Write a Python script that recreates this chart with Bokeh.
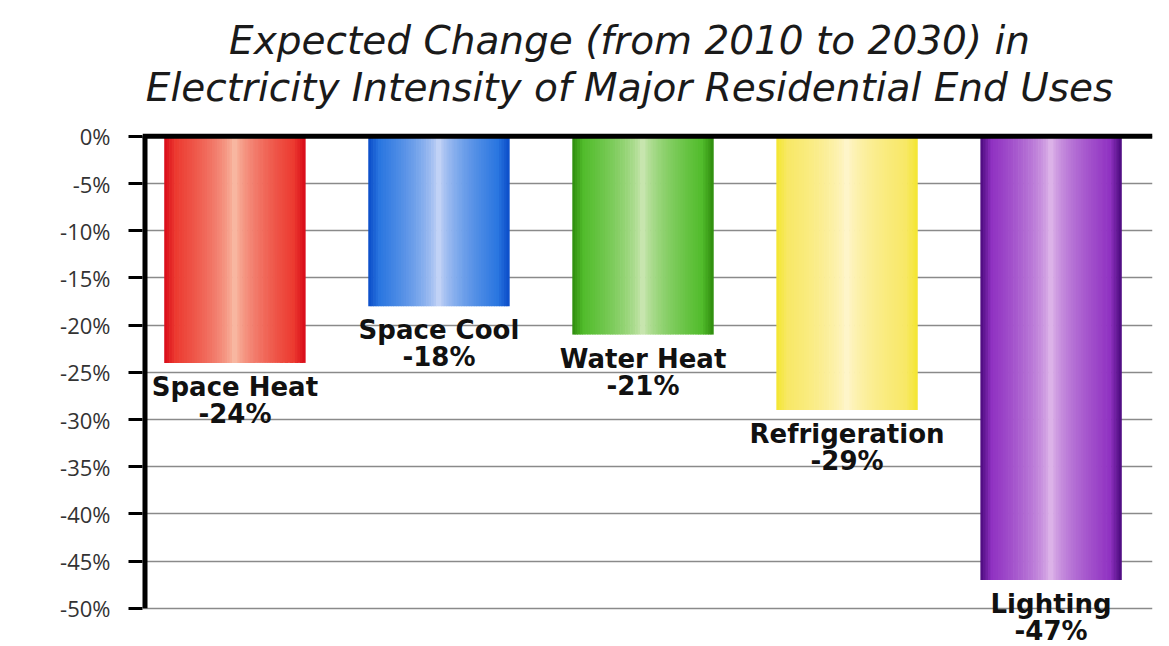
import numpy as np
from bokeh.plotting import figure
from bokeh.models import (Range1d, FixedTicker, PrintfTickFormatter, Span,
                          LabelSet, Label, ColumnDataSource)
from bokeh.core.properties import value
from bokeh.embed import file_html
from bokeh.resources import INLINE

# ---- data ----
categories = ["Space Heat", "Space Cool", "Water Heat", "Refrigeration", "Lighting"]
values = [-24, -18, -21, -29, -47]
tick_values = [0, -5, -10, -15, -20, -25, -30, -35, -40, -45, -50]
title_lines = ["Expected Change (from 2010 to 2030) in",
               "Electricity Intensity of Major Residential End Uses"]

# ---- styles ----
edge_colors = ["#D80A18", "#0A4CC8", "#2E8C0C", "#F4E630", "#4A0A7C"]
main_colors = ["#EC3A30", "#2A76E0", "#52BC2C", "#F8E866", "#9032C2"]
light_colors = ["#F9C4AC", "#D2DCF8", "#D4EABC", "#FFF6D4", "#E4C0EC"]


def hex2rgb(h):
    h = h.lstrip("#")
    return np.array([int(h[i:i + 2], 16) for i in (0, 2, 4)], dtype=float)


def mix(a, b, t):
    c = a + (b - a) * t
    return "#%02x%02x%02x" % tuple(int(round(min(255, max(0, x)))) for x in c)


x_start, x_end = -0.453, 4.497
y_start, y_end = -54.04, 14.39
p = figure(width=1169, height=646,
           x_range=Range1d(x_start, x_end), y_range=Range1d(y_start, y_end),
           output_backend="svg", toolbar_location=None, x_axis_location=None,
           min_border_left=142, min_border_right=17,
           min_border_top=0, min_border_bottom=0, title=None)
p.outline_line_color = None
p.background_fill_color = "white"
p.border_fill_color = "white"

# grid
p.xgrid.visible = False
p.ygrid.ticker = FixedTicker(ticks=tick_values)
p.ygrid.grid_line_color = "#8a8a8a"
p.ygrid.grid_line_width = 1.3

# y axis (line drawn separately so it stops at the last tick)
ax = p.yaxis[0]
ax.ticker = FixedTicker(ticks=tick_values)
ax.formatter = PrintfTickFormatter(format="%d%%")
ax.axis_line_color = None
ax.major_tick_line_color = "black"
ax.major_tick_line_width = 3
ax.major_tick_out = 14
ax.major_tick_in = 0
ax.minor_tick_line_color = None
ax.major_label_standoff = 18
ax.major_label_text_font = "Open Sans"
ax.major_label_text_font_size = "22px"
ax.major_label_text_color = "#333333"

p.segment(x0=[x_start], x1=[x_start], y0=[min(tick_values)], y1=[max(tick_values)],
          line_color="black", line_width=10)

# gradient bars drawn as thin vertical strips of the same value
N = 56
bar_w = 0.69
sx, sb, sc = [], [], []
for i, v in enumerate(values):
    e, m, l = hex2rgb(edge_colors[i]), hex2rgb(main_colors[i]), hex2rgb(light_colors[i])
    for k in range(N):
        u = (k + 0.5) / N
        d = abs(2 * u - 1)
        if d > 0.84:
            col = mix(m, e, (d - 0.84) / 0.16)
        else:
            t = (d / 0.84) ** 0.6
            col = mix(l, m, t)
        sx.append(i - bar_w / 2 + u * bar_w)
        sb.append(v)
        sc.append(col)

p.vbar(x=sx, width=bar_w / N * 1.25, top=0, bottom=sb,
       fill_color=sc, line_color=None)

# zero line
p.add_layout(Span(location=0, dimension="width", line_color="black", line_width=5))

# bar labels (two lines each)
lab_src = ColumnDataSource(dict(
    x=list(range(len(categories))), y=values,
    name=categories, pct=[f"{v}%" for v in values]))
for col, off in (("name", -9), ("pct", -36)):
    p.add_layout(LabelSet(x="x", y="y", text=col, source=lab_src,
                          text_align="center", text_baseline="top", y_offset=off,
                          text_font=value("DejaVu Sans"), text_font_style="bold",
                          text_font_size=value("26px"),
                          text_color="#111111"))

# title
for yv, line in zip([10.15, 5.17], title_lines):
    p.add_layout(Label(x=1.934, y=yv, text=line, text_align="center",
                       text_baseline="middle", text_font="DejaVu Sans",
                       text_font_style="italic", text_font_size="39px",
                       text_color="#1a1a1a"))

open("out.html", "w").write(file_html(p, INLINE))
